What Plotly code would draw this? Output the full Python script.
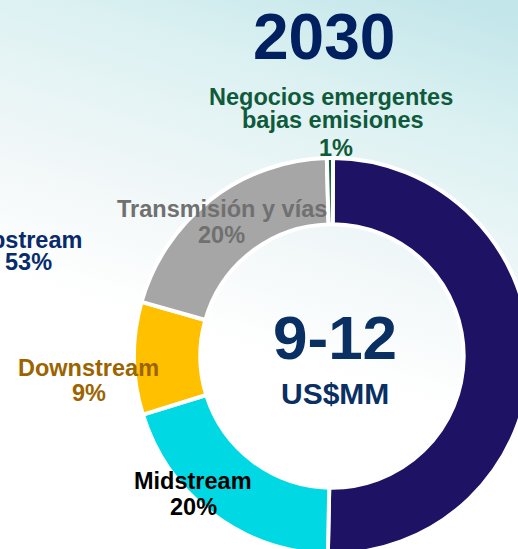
import base64
import plotly.graph_objects as go

# ---- data ----
segments = ["Upstream", "Midstream", "Downstream", "Transmisión y vías",
            "Negocios emergentes bajas emisiones"]
shares = [50.3, 19.9, 9.2, 20.2, 0.5]            # slice sizes as drawn
pct_labels = ["53%", "20%", "9%", "20%", "1%"]   # printed labels
slice_colors = ["#1d1264", "#00d9e3", "#ffc000", "#a6a6a6", "#0e5a3a"]
label_colors = ["#082b6b", "#000000", "#9c6400", "#707070", "#0e5a3a"]
title_text = "2030"
center_main = "9-12"
center_unit = "US$MM"

W, H = 540, 560


def px(x, y):
    return x / W, 1 - y / H


fig = go.Figure()

# pie geometry: center (332,356), radius 198 px
cx, cy, R = 332, 356, 198
dx0, dy0 = px(cx - R, cy - R)
dx1, dy1 = px(cx + R, cy + R)

fig.add_trace(go.Pie(
    labels=segments, values=shares, sort=False, direction="clockwise",
    rotation=0.3, hole=0.665,
    marker=dict(colors=slice_colors, line=dict(color="white", width=4)),
    textinfo="none", hoverinfo="label+value", showlegend=False,
    domain=dict(x=[dx0, dx1], y=[dy1, dy0]),
))

# background gradient via SVG image
svg = ('<svg xmlns="http://www.w3.org/2000/svg" width="540" height="560">'
       '<defs><linearGradient id="g" x1="0.85" y1="0" x2="0.6" y2="0.85">'
       '<stop offset="0" stop-color="#c3e6ea"/>'
       '<stop offset="0.25" stop-color="#dcf1f2"/>'
       '<stop offset="0.55" stop-color="#f1f7f8"/>'
       '<stop offset="0.8" stop-color="#ffffff"/>'
       '<stop offset="1" stop-color="#ffffff"/></linearGradient></defs>'
       '<rect width="540" height="560" fill="url(#g)"/></svg>')
uri = "data:image/svg+xml;base64," + base64.b64encode(svg.encode()).decode()
fig.add_layout_image(dict(source=uri, xref="paper", yref="paper", x=0, y=1,
                          sizex=1, sizey=1, xanchor="left", yanchor="top",
                          sizing="stretch", layer="below"))

FONT = "Liberation Sans, Arial, sans-serif"


def ann(text, x, y, size, color):
    xp, yp = px(x, y)
    fig.add_annotation(text="<b>%s</b>" % text, x=xp, y=yp, xref="paper", yref="paper",
                       xanchor="center", yanchor="middle", showarrow=False,
                       font=dict(family=FONT, size=size, color=color))


LS = 23.5
ann(title_text, 324, 37.5, 64, "#002060")
ann("Negocios emergentes", 331, 97, LS, label_colors[4])
ann("bajas emisiones", 333, 120, LS, label_colors[4])
ann(pct_labels[4], 335.5, 148, LS, label_colors[4])
ann("Transmisión y vías", 221.5, 208.5, LS, label_colors[3])
ann(pct_labels[3], 221.5, 235.5, LS, label_colors[3])
ann(segments[0], 28, 240, LS, label_colors[0])
ann(pct_labels[0], 28.5, 262, LS, label_colors[0])
ann(segments[2], 88, 368, LS, label_colors[2])
ann(pct_labels[2], 88.5, 393.5, LS, label_colors[2])
ann(segments[1], 193, 480.5, LS, label_colors[1])
ann(pct_labels[1], 193.5, 506.5, LS, label_colors[1])
ann(center_main, 335, 337, 62, "#0a2f63")
ann(center_unit, 334.5, 393, 30, "#0a2f63")

fig.update_layout(width=W, height=H, margin=dict(l=0, r=0, t=0, b=0),
                  paper_bgcolor="white", plot_bgcolor="white")

fig.write_html("out.html", config={"displayModeBar": False},
               post_script="document.body.style.margin='0';document.body.style.overflow='hidden';")
